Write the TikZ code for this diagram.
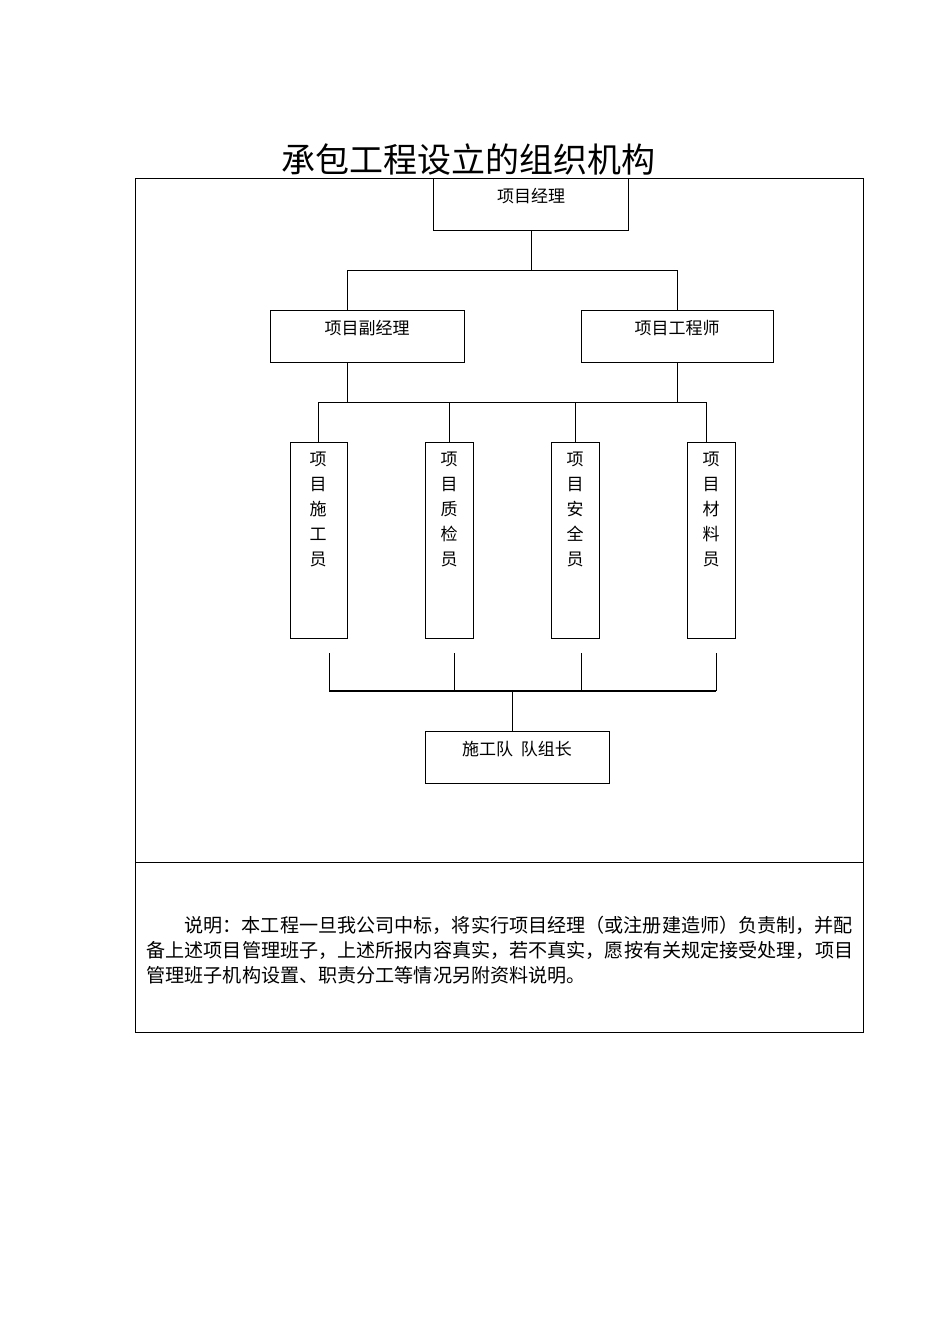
\documentclass[tikz,border=0pt]{standalone}
\usepackage{fontspec}
\setmainfont{Noto Sans CJK SC}
\begin{document}
\begin{tikzpicture}[x=1pt,y=-1pt,
  bx/.style={draw,line width=1pt,anchor=north west,inner sep=0pt},
  ln/.style={line width=1pt},
  lbl/.style={font=\fontsize{17}{20}\selectfont},
  nt/.style={anchor=west,font=\fontsize{19.1}{20}\selectfont},
  vt/.style={font=\fontsize{17}{25}\selectfont,align=center,anchor=north}]
\useasboundingbox (0,0) rectangle (950,1344);
\node[font=\fontsize{34}{38}\selectfont] (title) at (468,160) {承包工程设立的组织机构};
\draw[ln] (135,178) rectangle (863,1032);
\draw[ln] (135,862) -- (863,862);
% top
\node[bx,minimum width=195pt,minimum height=52pt] (pm) at (433,178) {};
\node[lbl] at (531,196) {项目经理};
\node[bx,minimum width=194pt,minimum height=52pt] (dpm) at (270,310) {};
\node[lbl] at (367,328) {项目副经理};
\node[bx,minimum width=192pt,minimum height=52pt] (eng) at (581,310) {};
\node[lbl] at (677,328) {项目工程师};
\coordinate (j1) at (531,270);
\draw[ln] (pm.south) -- (j1);
\draw[ln] (347,310) -- (347,270) -- (677,270) -- (677,310);
\draw[ln] (347,362) -- (347,402);
\draw[ln] (677,362) -- (677,402);
\draw[ln] (318,442) -- (318,402) -- (706,402) -- (706,442);
\draw[ln] (449,402) -- (449,442);
\draw[ln] (575,402) -- (575,442);
% vertical boxes
\node[bx,minimum width=57pt,minimum height=196pt] (b1) at (290,442) {};
\node[bx,minimum width=48pt,minimum height=196pt] (b2) at (425,442) {};
\node[bx,minimum width=48pt,minimum height=196pt] (b3) at (551,442) {};
\node[bx,minimum width=48pt,minimum height=196pt] (b4) at (687,442) {};
\node[vt] at (318,448) {项\\目\\施\\工\\员};
\node[vt] at (449,448) {项\\目\\质\\检\\员};
\node[vt] at (575,448) {项\\目\\安\\全\\员};
\node[vt] at (711,448) {项\\目\\材\\料\\员};
% bottom
\draw[ln] (329,653) -- (329,691);
\draw[ln] (454,653) -- (454,691);
\draw[ln] (581,653) -- (581,691);
\draw[ln] (716,653) -- (716,691);
\draw[line width=2pt] (329,691) -- (716,691);
\node[bx,minimum width=184pt,minimum height=52pt] (team) at (425,731) {};
\coordinate (j2) at (512,691);
\draw[ln] (j2) -- (j2 |- team.north);
\node[lbl] at (517,749) {施工队\ \ 队组长};
% note
\node[nt] (n1) at (181,925) {说明：本工程一旦我公司中标，将实行项目经理（或注册建造师）负责制，并配};
\node[nt] (n2) at (143,950) {备上述项目管理班子，上述所报内容真实，若不真实，愿按有关规定接受处理，项目};
\node[nt] (n3) at (143,975) {管理班子机构设置、职责分工等情况另附资料说明。};
\end{tikzpicture}
\end{document}
